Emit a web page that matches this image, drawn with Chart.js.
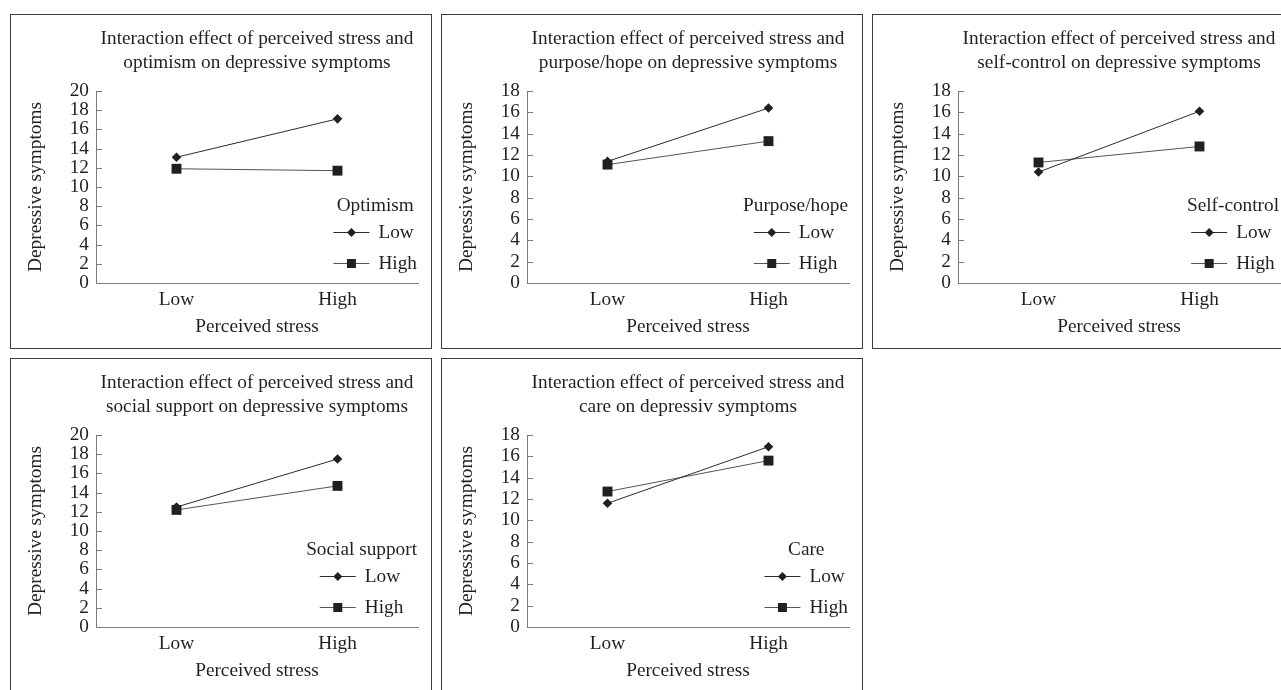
<!DOCTYPE html>
<html>
<head>
<meta charset="utf-8">
<script src="https://cdn.jsdelivr.net/npm/chart.js@4.4.1/dist/chart.umd.min.js"></script>
<style>
  html, body { margin: 0; padding: 0; background: #fff; overflow: hidden; }
  body { width: 1281px; height: 690px; position: relative; }
  .panel { position: absolute; width: 420px; height: 333px; border: 1px solid #3c3c3c; background: #fff; }
  .panel canvas { display: block; }
</style>
</head>
<body>
<div class="panel" style="left:10px;top:14px"><canvas id="c1" width="420" height="333"></canvas></div>
<div class="panel" style="left:441px;top:14px"><canvas id="c2" width="420" height="333"></canvas></div>
<div class="panel" style="left:872px;top:14px"><canvas id="c3" width="420" height="333"></canvas></div>
<div class="panel" style="left:10px;top:358px"><canvas id="c4" width="420" height="333"></canvas></div>
<div class="panel" style="left:441px;top:358px"><canvas id="c5" width="420" height="333"></canvas></div>
<script>
// 데이터
var stressLevels = ['Low', 'High'];
var seriesNames = ['Low', 'High'];

var optimismLow = [13.1, 17.1];
var optimismHigh = [11.9, 11.7];

var purposeLow = [11.4, 16.4];
var purposeHigh = [11.1, 13.3];

var selfControlLow = [10.4, 16.1];
var selfControlHigh = [11.3, 12.8];

var socialLow = [12.5, 17.5];
var socialHigh = [12.2, 14.7];

var careLow = [11.6, 16.9];
var careHigh = [12.7, 15.6];

var yTicks20 = [0, 2, 4, 6, 8, 10, 12, 14, 16, 18, 20];
var yTicks18 = [0, 2, 4, 6, 8, 10, 12, 14, 16, 18];

var FONT = "'Liberation Serif', 'DejaVu Serif', serif";
var FS = 19.3;
var INK = '#231f20';
var AXIS = '#7a7a7a';

Chart.defaults.font.family = FONT;
Chart.defaults.font.size = FS;
Chart.defaults.color = INK;

// y축 안쪽 눈금
var innerTicks = {
  id: 'innerTicks',
  afterDraw: function(chart) {
    var ctx = chart.ctx, y = chart.scales.y, area = chart.chartArea;
    ctx.save();
    ctx.strokeStyle = AXIS;
    ctx.lineWidth = 1;
    y.ticks.forEach(function(t) {
      var py = Math.round(y.getPixelForValue(t.value)) + 0.5;
      ctx.beginPath();
      ctx.moveTo(area.left, py);
      ctx.lineTo(area.left + 6, py);
      ctx.stroke();
    });
    ctx.restore();
  }
};

// 범례 (오른쪽 아래)
var boxLegend = {
  id: 'boxLegend',
  afterDraw: function(chart, args, opts) {
    var ctx = chart.ctx, area = chart.chartArea;
    ctx.save();
    ctx.font = FS + 'px ' + FONT;
    ctx.fillStyle = INK;
    ctx.textBaseline = 'middle';
    var lineLen = 36, gap = 9;
    var labelW = 0;
    chart.data.datasets.forEach(function(d) { labelW = Math.max(labelW, ctx.measureText(d.label).width); });
    var itemsW = lineLen + gap + labelW;
    var titleW = ctx.measureText(opts.title).width;
    var boxW = Math.max(itemsW, titleW);
    var cx = area.right - 1 - boxW / 2;
    ctx.textAlign = 'center';
    ctx.fillText(opts.title, cx, area.bottom - 77);
    var left = cx - itemsW / 2;
    var rows = [area.bottom - 51, area.bottom - 20];
    chart.data.datasets.forEach(function(d, i) {
      var ry = Math.round(rows[i]) + 0.5;
      ctx.strokeStyle = d.borderColor;
      ctx.lineWidth = 1;
      ctx.beginPath();
      ctx.moveTo(left, ry);
      ctx.lineTo(left + lineLen, ry);
      ctx.stroke();
      var mx = left + lineLen / 2;
      ctx.fillStyle = INK;
      ctx.beginPath();
      if (d.pointStyle === 'rectRot') {
        ctx.moveTo(mx, ry - 4.5);
        ctx.lineTo(mx + 4.5, ry);
        ctx.lineTo(mx, ry + 4.5);
        ctx.lineTo(mx - 4.5, ry);
        ctx.closePath();
      } else {
        ctx.rect(mx - 4.5, ry - 4.5, 9, 9);
      }
      ctx.fill();
      ctx.textAlign = 'left';
      ctx.fillText(d.label, left + lineLen + gap, ry);
    });
    ctx.restore();
  }
};

function makeChart(id, titleLines, legendTitle, lowVals, highVals, yMax) {
  return new Chart(document.getElementById(id), {
    type: 'line',
    data: {
      labels: stressLevels,
      datasets: [
        {
          label: seriesNames[0],
          data: lowVals,
          borderColor: '#2b2b2b',
          borderWidth: 1,
          pointStyle: 'rectRot',
          pointRadius: 4.8,
          pointBackgroundColor: INK,
          pointBorderColor: INK,
          pointBorderWidth: 0,
          tension: 0
        },
        {
          label: seriesNames[1],
          data: highVals,
          borderColor: '#555555',
          borderWidth: 1,
          pointStyle: 'rect',
          pointRadius: 7,
          pointBackgroundColor: INK,
          pointBorderColor: INK,
          pointBorderWidth: 0,
          tension: 0
        }
      ]
    },
    options: {
      responsive: false,
      animation: false,
      devicePixelRatio: 1,
      layout: { padding: { left: 0, right: 13, top: 0, bottom: 0 } },
      plugins: {
        legend: { display: false },
        tooltip: { enabled: false },
        title: {
          display: true,
          text: titleLines,
          fullSize: false,
          color: INK,
          font: { family: FONT, size: FS, weight: 'normal', lineHeight: 24 / FS },
          padding: { top: 12, bottom: 16 }
        },
        boxLegend: { title: legendTitle }
      },
      scales: {
        x: {
          type: 'category',
          offset: true,
          grid: { display: false, drawTicks: false },
          border: { display: true, color: AXIS, width: 1 },
          ticks: { padding: 5, color: INK, font: { size: FS } },
          title: { display: true, text: 'Perceived stress', color: INK, font: { size: FS }, padding: { top: 0, bottom: 9 } },
          afterFit: function(s) { s.height = 65; }
        },
        y: {
          min: 0,
          max: yMax,
          grid: { display: false, drawTicks: false },
          border: { display: true, color: AXIS, width: 1 },
          afterBuildTicks: function(s) {
            var list = yMax === 20 ? yTicks20 : yTicks18;
            s.ticks = list.map(function(v) { return { value: v }; });
          },
          ticks: { padding: 7, color: INK, font: { size: FS }, autoSkip: false },
          title: { display: true, text: 'Depressive symptoms', color: INK, font: { size: FS }, padding: { top: 13, bottom: 0 } },
          afterFit: function(s) { s.width = 85; }
        }
      }
    },
    plugins: [innerTicks, boxLegend]
  });
}

makeChart('c1', ['Interaction effect of perceived stress and', 'optimism on depressive symptoms'], 'Optimism', optimismLow, optimismHigh, 20);
makeChart('c2', ['Interaction effect of perceived stress and', 'purpose/hope on depressive symptoms'], 'Purpose/hope', purposeLow, purposeHigh, 18);
makeChart('c3', ['Interaction effect of perceived stress and', 'self-control on depressive symptoms'], 'Self-control', selfControlLow, selfControlHigh, 18);
makeChart('c4', ['Interaction effect of perceived stress and', 'social support on depressive symptoms'], 'Social support', socialLow, socialHigh, 20);
makeChart('c5', ['Interaction effect of perceived stress and', 'care on depressiv symptoms'], 'Care', careLow, careHigh, 18);
</script>
</body>
</html>
